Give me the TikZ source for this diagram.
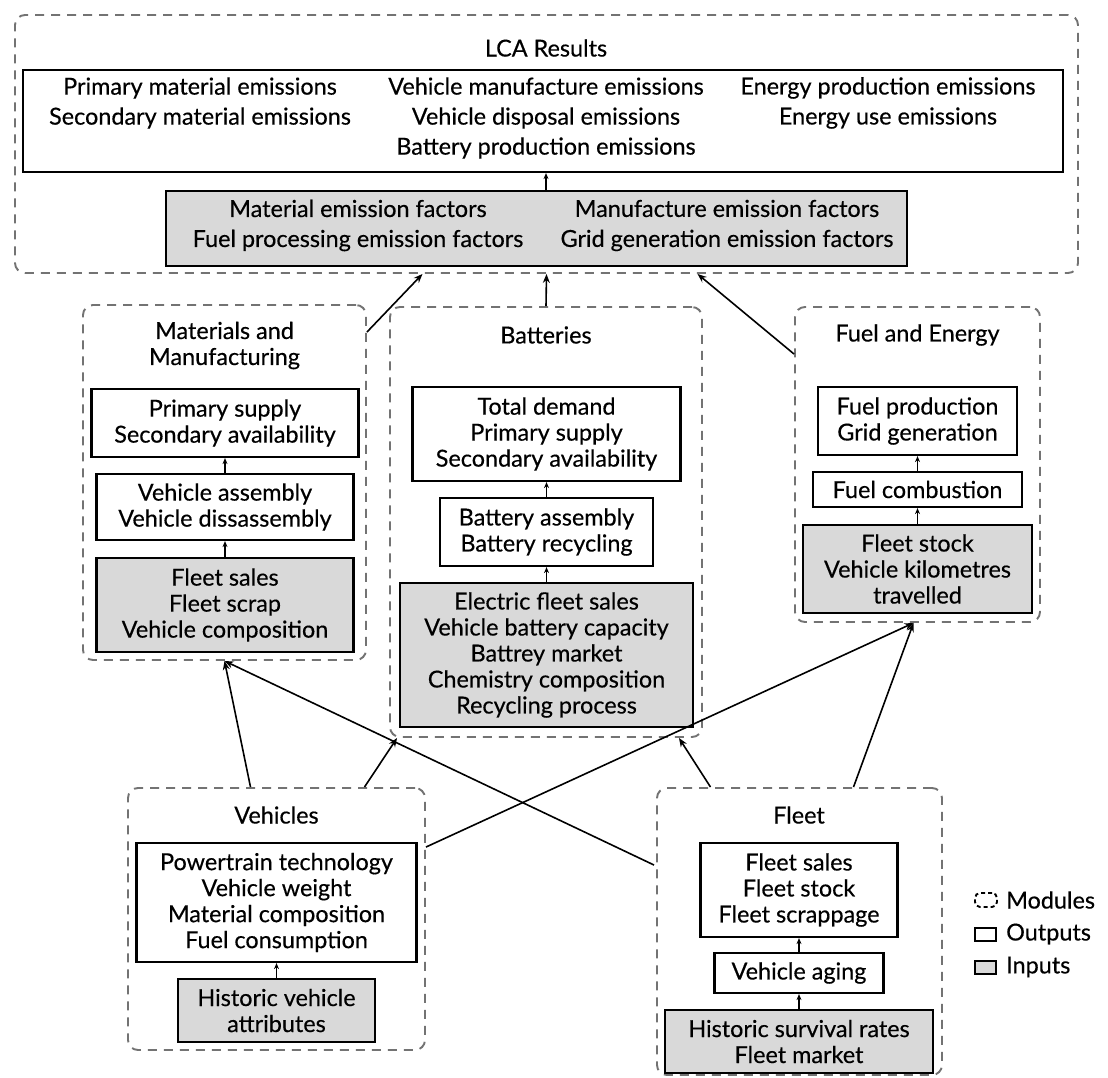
\documentclass[tikz,border=0pt]{standalone}
\usepackage{fontspec}
\setmainfont{Lato}[UprightFeatures={FakeBold=0.4}]
\usepackage{tikz}
\usetikzlibrary{positioning,calc,arrows.meta}

\definecolor{modgray}{gray}{0.45}
\definecolor{infill}{gray}{0.85}

\begin{document}
\begin{tikzpicture}[x=1pt,y=-1pt,
    font=\fontsize{23.4}{26}\selectfont,
    module/.style={draw=modgray, line width=1.9pt, dash pattern=on 9pt off 7pt, rounded corners=10pt, inner sep=0pt},
    outbox/.style={draw, line width=2.2pt, align=center, inner sep=0pt},
    inbox/.style={outbox, fill=infill},
    modtitle/.style={align=center, inner sep=0pt},
    lcatext/.style={align=center, inner sep=0pt, font=\fontsize{23.4}{30}\selectfont},
    link/.style={-{Stealth[length=9pt,width=7pt]}, line width=1.6pt},
    flow/.style={-{Stealth[length=6pt,width=5pt]}, line width=1.6pt}]
    \useasboundingbox (0,0) rectangle (1108,1078);

    % LCA results
    \node[module, minimum width=1063pt, minimum height=258pt] (lca) at (546.5,144) {};
    \node[modtitle] (lcaT) at (546,48) {LCA Results};
    \node[outbox, minimum width=1040pt, minimum height=102pt] (lcaout) at (543,121) {};
    \node[lcatext] (lcaoutA) at (200,103) {Primary material emissions\\Secondary material emissions};
    \node[lcatext] (lcaoutB) at (546,118) {Vehicle manufacture emissions\\Vehicle disposal emissions\\Battery production emissions};
    \node[lcatext] (lcaoutC) at (888,103) {Energy production emissions\\Energy use emissions};
    \node[inbox, minimum width=741pt, minimum height=75pt] (lcain) at (536.5,228.5) {};
    \node[lcatext] (lcainA) at (358,225.5) {Material emission factors\\Fuel processing emission factors};
    \node[lcatext] (lcainB) at (727,225.5) {Manufacture emission factors\\Grid generation emission factors};
    \draw[flow] (lcain.north -| lcaT) -- (lcaout.south -| lcaT);

    % materials and manufacturing
    \node[module, minimum width=283pt, minimum height=355pt] (matm) at (224.5,482.5) {};
    \node[modtitle] (matmT) at (224.5,345.5) {Materials and\\Manufacturing};
    \node[outbox, minimum width=267pt, minimum height=68pt] (mat1) at (225,423) {Primary supply\\Secondary availability};
    \node[outbox, minimum width=257pt, minimum height=66pt] (mat2) at (225,507) {Vehicle assembly\\Vehicle dissassembly};
    \node[inbox, minimum width=257pt, minimum height=94pt] (mat3) at (225,605) {Fleet sales\\Fleet scrap\\Vehicle composition};
    \draw[flow] (mat2) -- (mat1);
    \draw[flow] (mat3) -- (mat2);

    % batteries
    \node[module, minimum width=312pt, minimum height=430pt] (bat) at (546,522) {};
    \node[modtitle] (batT) at (546,335) {Batteries};
    \node[outbox, minimum width=268pt, minimum height=94pt] (bat1) at (546.5,434) {Total demand\\Primary supply\\Secondary availability};
    \node[outbox, minimum width=213pt, minimum height=68pt] (bat2) at (546.5,532) {Battery assembly\\Battery recycling};
    \node[inbox, minimum width=293pt, minimum height=144pt] (bat3) at (546.5,655) {Electric fleet sales\\Vehicle battery capacity\\Battrey market\\Chemistry composition\\Recycling process};
    \draw[flow] (bat2) -- (bat1);
    \draw[flow] (bat3) -- (bat2);

    % fuel and energy
    \node[module, minimum width=245pt, minimum height=315pt] (fuel) at (917.5,464.5) {};
    \node[modtitle] (fuelT) at (917.5,335) {Fuel and Energy};
    \node[outbox, minimum width=199pt, minimum height=68pt] (fuel1) at (917.5,421) {Fuel production\\Grid generation};
    \node[outbox, minimum width=209pt, minimum height=35pt] (fuel2) at (917.5,489.5) {Fuel combustion};
    \node[inbox, minimum width=229pt, minimum height=88pt] (fuel3) at (917.5,569) {Fleet stock\\Vehicle kilometres\\travelled};
    \draw[flow] (fuel2) -- (fuel1);
    \draw[flow] (fuel3) -- (fuel2);

    % vehicles
    \node[module, minimum width=297pt, minimum height=262pt] (veh) at (276.5,919) {};
    \node[modtitle] (vehT) at (276.5,815) {Vehicles};
    \node[outbox, minimum width=280pt, minimum height=119pt] (veh1) at (276.5,902.5) {Powertrain technology\\Vehicle weight\\Material composition\\Fuel consumption};
    \node[inbox, minimum width=197pt, minimum height=63pt] (veh2) at (276.5,1010.5) {Historic vehicle\\attributes};
    \draw[flow] (veh2) -- (veh1);

    % fleet
    \node[module, minimum width=285pt, minimum height=287pt] (flt) at (799.5,931.5) {};
    \node[modtitle] (fltT) at (799,815) {Fleet};
    \node[outbox, minimum width=197pt, minimum height=94pt] (flt1) at (799,890) {Fleet sales\\Fleet stock\\Fleet scrappage};
    \node[outbox, minimum width=169pt, minimum height=40pt] (flt2) at (799,973) {Vehicle aging};
    \node[inbox, minimum width=268pt, minimum height=63pt] (flt3) at (799,1041.5) {Historic survival rates\\Fleet market};
    \draw[flow] (flt2) -- (flt1);
    \draw[flow] (flt3) -- (flt2);

    % links between modules
    \draw[link] ($(matm.north east)+(0,28)$) -- ($(lca.south)+(-124,0)$);
    \draw[link] (bat.north) -- (lca.south);
    \draw[link] ($(fuel.north west)+(0,48)$) -- ($(lca.south)+(151,0)$);
    \draw[link] ($(veh.north)+(-26,0)$) -- (matm.south);
    \draw[link] ($(veh.north)+(88,0)$) -- ($(bat.south west)+(8,0)$);
    \draw[link] ($(veh.north east)+(0,60)$) -- ($(fuel.south)+(-4,0)$);
    \draw[link] ($(flt.north west)+(-2,78)$) -- (matm.south);
    \draw[link] ($(flt.north)+(-89,0)$) -- ($(bat.south east)+(-24,0)$);
    \draw[link] ($(flt.north)+(54,0)$) -- ($(fuel.south)+(-4,0)$);

    % legend
    \node[module, draw=black, dash pattern=on 4pt off 3pt, rounded corners=5pt, minimum width=22pt, minimum height=14pt] (legM) at (986,900) {};
    \node[anchor=west, inner sep=0pt] (legMT) at (1006,900) {Modules};
    \node[outbox, minimum width=21pt, minimum height=13pt] (legO) at (985.5,934.5) {};
    \node[anchor=west, inner sep=0pt] (legOT) at (1006,934) {Outputs};
    \node[inbox, minimum width=21pt, minimum height=13pt] (legI) at (985.5,967.5) {};
    \node[anchor=west, inner sep=0pt] (legIT) at (1006,967) {Inputs};
\end{tikzpicture}
\end{document}
